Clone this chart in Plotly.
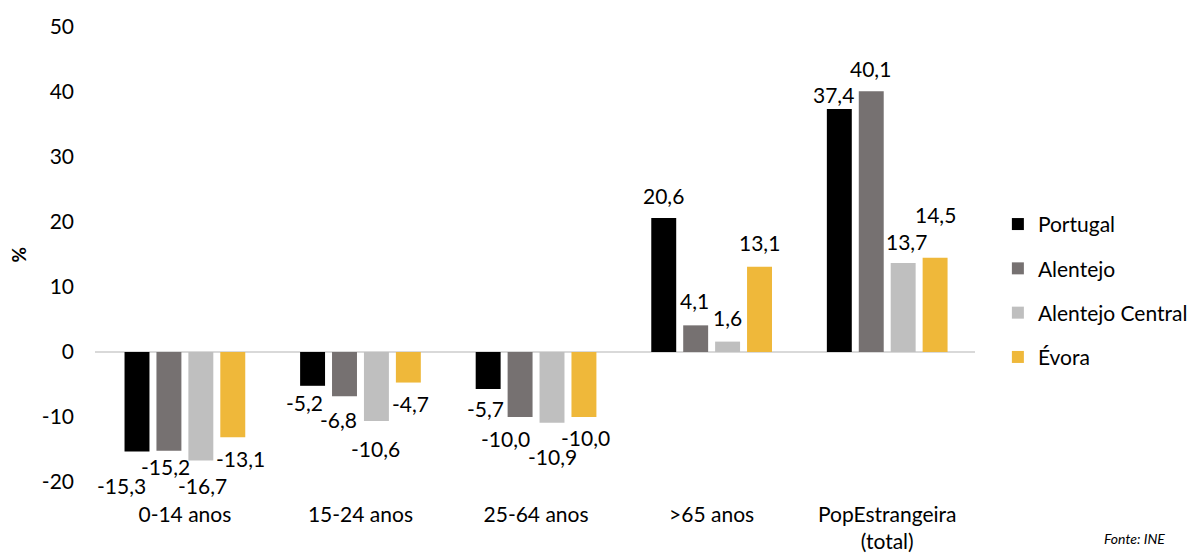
import plotly.graph_objects as go

categories = ["0-14 anos", "15-24 anos", "25-64 anos", ">65 anos", "PopEstrangeira<br>(total)"]
series_names = ["Portugal", "Alentejo", "Alentejo Central", "Évora"]
portugal = [-15.3, -5.2, -5.7, 20.6, 37.4]
alentejo = [-15.2, -6.8, -10.0, 4.1, 40.1]
alentejo_central = [-16.7, -10.6, -10.9, 1.6, 13.7]
evora = [-13.1, -4.7, -10.0, 13.1, 14.5]
y_ticks = [-20, -10, 0, 10, 20, 30, 40, 50]
y_tick_labels = ["-20", "-10", "0", "10", "20", "30", "40", "50"]

series_values = [portugal, alentejo, alentejo_central, evora]
colors = ["#000000", "#767171", "#bfbfbf", "#efb83a"]

# label nudges (pixels) relative to bar end: dx right, dy down
label_dx = [[-15.5, -8.5, -2.5, -0.5, -5.5],
            [-3.5, -6.5, -14.5, -1.5, -0.5],
            [1.5, -1, 0.5, -0.5, 3.5],
            [7.5, 2.5, 1.5, 0, 0]]
label_dy = [[34.5, 17, 19, -23, -14],
            [16, 23, 21, -25, -23],
            [25, 28, 34, -24, -21],
            [21, 21, 20, -24, -43]]

FONT = "Lato"
BARGAP = 0.2727
fig = go.Figure()
for name, vals, col in zip(series_names, series_values, colors):
    fig.add_trace(go.Bar(
        x=categories, y=vals, name=name, marker=dict(color=col, line=dict(width=0)),
        legendgroup=name,
    ))

slot = (1 - BARGAP) / len(series_names)
annotations = []
for i, vals in enumerate(series_values):
    for j, v in enumerate(vals):
        annotations.append(dict(
            x=j + (i - 1.5) * slot, y=v, xref="x", yref="y",
            text=f"{v:.1f}".replace(".", ","), showarrow=False,
            xanchor="center", yanchor="middle",
            xshift=label_dx[i][j], yshift=-label_dy[i][j],
            font=dict(family=FONT, size=21, color="#000000"),
        ))

annotations.append(dict(
    x=-0.0864, y=0.5, xref="paper", yref="paper", text="<b>%</b>", textangle=-90,
    showarrow=False, xanchor="center", yanchor="middle",
    font=dict(family=FONT, size=19, color="#000000"),
))
annotations.append(dict(
    x=1.144, y=-0.102, xref="paper", yref="paper", text="<i>Fonte: INE</i>",
    showarrow=False, xanchor="left", yanchor="top",
    font=dict(family=FONT, size=14, color="#000000"),
))

fig.update_layout(
    width=1195, height=554,
    margin=dict(l=95, r=220, t=27, b=72, autoexpand=False),
    paper_bgcolor="white", plot_bgcolor="white",
    barmode="group", bargap=BARGAP, bargroupgap=0.21875,
    font=dict(family=FONT, size=21, color="#000000"),
    showlegend=True,
    legend=dict(
        x=1.026, y=0.42, xanchor="left", yanchor="middle",
        traceorder="grouped", tracegroupgap=14,
        font=dict(family=FONT, size=21, color="#000000"),
        bgcolor="rgba(0,0,0,0)",
    ),
    annotations=annotations,
)
fig.update_xaxes(
    type="category", showgrid=False, showline=False, zeroline=False,
    ticks="", ticklabelstandoff=18, automargin=False,
    tickfont=dict(family=FONT, size=21, color="#000000"),
)
fig.update_yaxes(
    range=[-20, 50], tickvals=y_ticks, ticktext=y_tick_labels,
    showgrid=False, showline=False, automargin=False,
    zeroline=True, zerolinecolor="#d9d9d9", zerolinewidth=1.5,
    ticks="", ticklabelstandoff=20,
    tickfont=dict(family=FONT, size=21, color="#000000"),
)

fig.write_html("out.html")
